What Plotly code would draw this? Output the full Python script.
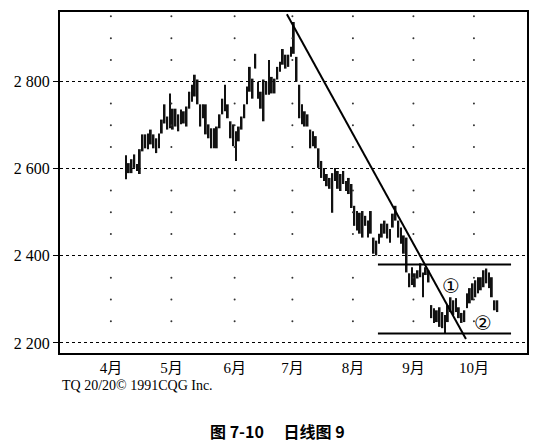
import plotly.graph_objects as go

# daily high / low, one entry per trading day (index 0 = first bar in early April)
highs = [
    2631, 2613, 2622, 2633, 2611, 2645, 2679, 2679, 2681, 2690,
    2679, 2670, 2681, 2713, 2748, 2720, 2773, 2738, 2738, 2725,
    2736, 2732, 2743, 2777, 2793, 2816, 2805, 2748, 2748, 2748,
    2702, 2693, 2693, 2697, 2725, 2761, 2793, 2748, 2709, 2702,
    2686, 2697, 2720, 2748, 2789, 2834, 2807, 2864, 2800, 2777,
    2805, 2800, 2850, 2811, 2807, 2834, 2846, 2875, 2862, 2862,
    2880, 2937,
    2857, 2793, 2748, 2732, 2725, 2690, 2686, 2675, 2647, 2618,
    2602, 2588, 2579, 2590, 2602, 2595, 2588, 2595, 2572, 2579,
    2565, 2515, 2503, 2499, 2503, 2492, 2481, 2503, 2442, 2435,
    2451, 2474, 2481, 2474, 2462, 2497, 2515, 2481, 2465, 2447,
    2442, 2360, 2374, 2360, 2367, 2383, 2362, 2374, 2367, 2287,
    2280, 2275, 2282, 2271, 2264, 2287, 2305, 2298, 2303, 2282,
    2269, 2275, 2314, 2326, 2337, 2344, 2351, 2351, 2367, 2371,
    2362, 2351, 2298, 2298,
]
lows = [
    2576, 2590, 2590, 2602, 2595, 2588, 2640, 2647, 2645, 2656,
    2647, 2636, 2647, 2681, 2704, 2690, 2693, 2690, 2697, 2686,
    2702, 2704, 2697, 2738, 2754, 2766, 2748, 2697, 2716, 2679,
    2670, 2647, 2647, 2647, 2693, 2725, 2732, 2716, 2670, 2652,
    2618, 2663, 2690, 2716, 2748, 2777, 2761, 2830, 2761, 2738,
    2709, 2770, 2770, 2773, 2773, 2805, 2823, 2839, 2830, 2834,
    2857, 2864,
    2800, 2716, 2702, 2697, 2697, 2647, 2652, 2647, 2602, 2579,
    2572, 2560, 2554, 2499, 2572, 2554, 2549, 2565, 2549, 2542,
    2510, 2469, 2458, 2451, 2442, 2469, 2442, 2451, 2405, 2401,
    2428, 2442, 2451, 2440, 2430, 2465, 2481, 2442, 2428, 2405,
    2362, 2328, 2333, 2328, 2348, 2351, 2305, 2356, 2339, 2257,
    2246, 2248, 2237, 2234, 2223, 2248, 2271, 2264, 2271, 2257,
    2246, 2248, 2280, 2291, 2298, 2305, 2314, 2321, 2328, 2337,
    2326, 2305, 2275, 2271,
]
days = list(range(len(highs)))

month_pos = [-5.5, 16.5, 39.5, 60.5, 82.5, 104.5, 126.5]
month_labels = ["4月", "5月", "6月", "7月", "8月", "9月", "10月"]

price_ticks = [2200, 2400, 2600, 2800]
price_labels = ["2 200", "2 400", "2 600", "2 800"]
dot_levels = [2250, 2300, 2350, 2450, 2500, 2550, 2650, 2700, 2750, 2850, 2900, 2950]

# drawn lines
trend_x = [58.5, 123.6]
trend_y = [2955, 2209]
box_x = [91.6, 140]
resistance = 2380
support = 2222

marks = [("①", 118.2, 2330), ("②", 129.8, 2246)]

serif = "Liberation Serif, Noto Sans CJK SC"

fig = go.Figure()

# faint grid dots
fig.add_trace(go.Scatter(
    x=[m for m in month_pos for _ in dot_levels],
    y=[lv for _ in month_pos for lv in dot_levels],
    mode="markers",
    marker=dict(size=2, color="#333"),
    hoverinfo="skip",
))

fig.add_trace(go.Bar(
    x=days,
    y=[h - l for h, l in zip(highs, lows)],
    base=lows,
    width=0.7,
    marker=dict(color="#111", line=dict(width=0)),
))

fig.add_trace(go.Scatter(x=trend_x, y=trend_y, mode="lines",
                         line=dict(color="black", width=2)))
for lvl in (resistance, support):
    fig.add_trace(go.Scatter(x=box_x, y=[lvl, lvl], mode="lines",
                             line=dict(color="black", width=2)))

for txt, mx, my in marks:
    fig.add_annotation(x=mx, y=my, text=txt, showarrow=False,
                       font=dict(family="DejaVu Sans, Noto Sans CJK SC", size=20, color="black"))

fig.add_annotation(xref="paper", yref="paper", x=0, y=-0.095, xanchor="left",
                   yanchor="middle", showarrow=False,
                   text="TQ 20/20© 1991CQG Inc.",
                   font=dict(family=serif, size=14, color="black"))
fig.add_annotation(xref="paper", yref="paper", x=0.465, y=-0.23, xanchor="center",
                   yanchor="middle", showarrow=False,
                   text="<b>图 7-10　 日线图 9</b>",
                   font=dict(family="Noto Sans CJK SC", size=16, color="black"))

# the page body adds an 8px offset, so the figure is sized to fit inside the window
fig.update_layout(
    width=541, height=438,
    margin=dict(l=52, r=22, t=2, b=93),
    paper_bgcolor="white", plot_bgcolor="white",
    showlegend=False,
    xaxis=dict(range=[-24, 145.8], showgrid=False, zeroline=False,
               tickvals=month_pos, ticktext=month_labels, ticks="",
               showline=True, mirror=True, linecolor="black", linewidth=2,
               tickfont=dict(family=serif, size=15, color="black")),
    yaxis=dict(range=[2177, 2960], zeroline=False,
               tickvals=price_ticks, ticktext=price_labels,
               ticks="outside", ticklen=5, tickcolor="black",
               showgrid=True, gridcolor="black", griddash="dot", gridwidth=1,
               showline=True, mirror=True, linecolor="black", linewidth=2,
               tickfont=dict(family=serif, size=16, color="black")),
)

fig.write_html("out.html")
